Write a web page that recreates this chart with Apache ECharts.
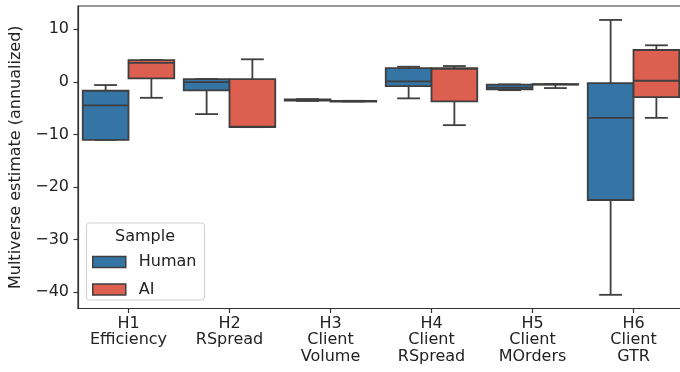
<!DOCTYPE html>
<html>
<head>
<meta charset="utf-8">
<script src="https://cdn.jsdelivr.net/npm/echarts@6/dist/echarts.min.js"></script>
<style>html,body{margin:0;padding:0;background:#fff}#c{width:680px;height:372px}</style>
</head>
<body>
<div id="c"></div>
<script>
const categories = ['H1\nEfficiency','H2\nRSpread','H3\nClient\nVolume','H4\nClient\nRSpread','H5\nClient\nMOrders','H6\nClient\nGTR'];
const yTicks = [-40,-30,-20,-10,0,10];

const humanMin = [-11.05, -6.15, -3.65, -3.16, -1.6, -40.5];
const humanQ1  = [-11.05, -1.64, -3.6, -0.82, -1.45, -22.48];
const humanMed = [-4.5, -0.06, -3.5, 0.07, -1.1, -6.86];
const humanQ3  = [-1.71, 0.51, -3.35, 2.61, -0.55, -0.25];
const humanMax = [-0.63, 0.51, -3.3, 2.86, -0.5, 11.75];

const aiMin = [-3.05, -8.63, -3.75, -8.25, -1.2, -6.86];
const aiQ1  = [0.65, -8.63, -3.7, -3.74, -0.55, -2.91];
const aiMed = [3.6, -8.55, -3.68, 2.45, -0.5, 0.19];
const aiQ3  = [4.13, 0.51, -3.66, 2.61, -0.45, 6.04];
const aiMax = [4.13, 4.27, -3.62, 2.99, -0.45, 6.93];

const BLUE = '#3575a6', RED = '#dc5f4f', EDGE = '#3f3f3f', TXT = '#222';

function rows(mn, q1, md, q3, mx){
  return categories.map((c,i)=>[i, mn[i], q1[i], md[i], q3[i], mx[i]]);
}

function makeRender(side, color){
  return function(params, api){
    const ci = api.value(0);
    const bw = api.size([1,0])[0];
    const c = api.coord([ci, 0])[0];
    const w = bw*0.453;
    const x0 = side < 0 ? c - w : c;
    const x1 = x0 + w, xm = (x0 + x1)/2, cap = w/4;
    const y = k => api.coord([ci, api.value(k)])[1];
    const ymin = y(1), yq1 = y(2), ymed = y(3), yq3 = y(4), ymax = y(5);
    const ls = {stroke: EDGE, lineWidth: 1.8};
    return {type:'group', children:[
      {type:'line', shape:{x1:xm,y1:yq3,x2:xm,y2:ymax}, style:ls},
      {type:'line', shape:{x1:xm,y1:yq1,x2:xm,y2:ymin}, style:ls},
      {type:'line', shape:{x1:xm-cap,y1:ymax,x2:xm+cap,y2:ymax}, style:ls},
      {type:'line', shape:{x1:xm-cap,y1:ymin,x2:xm+cap,y2:ymin}, style:ls},
      {type:'rect', shape:{x:x0,y:yq3,width:w,height:Math.max(yq1-yq3,0.5)}, style:{fill:color, stroke:EDGE, lineWidth:1.8}},
      {type:'line', shape:{x1:x0,y1:ymed,x2:x1,y2:ymed}, style:ls}
    ]};
  };
}

const chart = echarts.init(document.getElementById('c'), null, {renderer:'canvas'});
chart.setOption({
  animation:false,
  backgroundColor:'#fff',
  grid:{left:78, top:6, right:-4, bottom:63.5, containLabel:false, outerBoundsMode:'none',
    show:true, borderColor:'#333', borderWidth:1.2, backgroundColor:'transparent'},
  xAxis:{
    type:'category', data:categories, boundaryGap:true,
    axisLine:{show:true, onZero:false, lineStyle:{color:'#333', width:1.2}},
    axisTick:{show:true, alignWithLabel:true, length:4.5, lineStyle:{color:'#333', width:1.2}},
    axisLabel:{color:TXT, fontFamily:'DejaVu Sans', fontSize:16, lineHeight:16.5, margin:7, interval:0},
    splitLine:{show:false}
  },
  yAxis:{
    type:'value', min:-43.1, max:14.4,
    name:'Multiverse estimate (annualized)', nameLocation:'middle', nameGap:52,
    nameTextStyle:{color:TXT, fontFamily:'DejaVu Sans', fontSize:16},
    axisLine:{show:true, lineStyle:{color:'#333', width:1.2}},
    axisTick:{show:true, length:4.5, customValues:yTicks, lineStyle:{color:'#333', width:1.2}},
    axisLabel:{color:TXT, fontFamily:'DejaVu Sans', fontSize:16, margin:9, customValues:yTicks,
      formatter: v => v < 0 ? '\u2212' + Math.abs(v) : String(v)},
    splitLine:{show:false}
  },
  legend:{
    orient:'vertical', left:92, top:254, padding:0, itemWidth:33, itemHeight:11, itemGap:11.5,
    textStyle:{color:TXT, fontFamily:'DejaVu Sans', fontSize:16, padding:[0,0,0,8]},
    data:[
      {name:'Human', icon:'rect', itemStyle:{color:BLUE, borderColor:EDGE, borderWidth:1.5}},
      {name:'AI', icon:'rect', itemStyle:{color:RED, borderColor:EDGE, borderWidth:1.5}}
    ]
  },
  graphic:[
    {type:'rect', left:86, top:222.5, z:0, shape:{width:118, height:77, r:3}, style:{fill:'rgba(255,255,255,0.85)', stroke:'#d0d0d0', lineWidth:1}},
    {type:'text', x:145, y:237, z:1, style:{text:'Sample', fill:TXT, font:'16px "DejaVu Sans"', textAlign:'center', textVerticalAlign:'middle'}}
  ],
  series:[
    {name:'Human', type:'custom', renderItem:makeRender(-1, BLUE), itemStyle:{color:BLUE},
      encode:{x:0, y:[1,2,3,4,5]}, data:rows(humanMin, humanQ1, humanMed, humanQ3, humanMax), z:2},
    {name:'AI', type:'custom', renderItem:makeRender(1, RED), itemStyle:{color:RED},
      encode:{x:0, y:[1,2,3,4,5]}, data:rows(aiMin, aiQ1, aiMed, aiQ3, aiMax), z:2}
  ]
});
</script>
</body>
</html>
